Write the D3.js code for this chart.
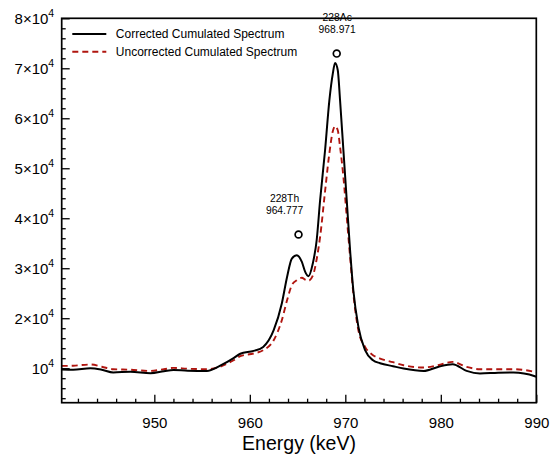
<!DOCTYPE html>
<html>
<head>
<meta charset="utf-8">
<script src="https://cdn.jsdelivr.net/npm/d3@7"></script>
<style>
  html, body { margin: 0; padding: 0; background: #fff; }
  svg { display: block; font-family: "Liberation Sans", Arial, Helvetica, sans-serif; }
</style>
</head>
<body>
<svg id="chart" width="550" height="454"></svg>
<script>
// --- data ---
const energy = [940.3, 941.5, 943.3, 944.5, 945.7, 947.5, 949.6, 951, 952, 953.5, 955.5, 956.9,
  958.3, 959.0, 960.4, 961.4, 962.5, 963.35, 963.9, 964.4, 964.92, 965.45, 965.8, 966.14,
  966.6, 967.0, 967.36, 967.88, 968.33, 968.69, 968.93, 969.21, 969.45, 969.8, 970.15, 970.5,
  970.84, 971.37, 972.07, 972.9, 973.64, 975, 976.1, 978.2, 979.7, 981.24, 982.7, 984.1,
  986, 987.6, 989.85, 990];

const corrected = [9740, 9700, 10000, 9700, 9140, 9300, 9000, 9400, 9660, 9500, 9460, 10500,
  12000, 12900, 13460, 14260, 17600, 22940, 28260, 31940, 32600, 31260, 29260, 28400,
  31000, 35600, 43600, 53600, 63600, 68940, 71060, 69600, 63600, 53600, 43600, 33600,
  25600, 18260, 13600, 11600, 11000, 10400, 9940, 9460, 10260, 10800, 9460, 8940,
  9100, 9140, 8400, 8300];

const uncorrected = [10460, 10500, 10740, 10300, 9800, 9700, 9460, 9800, 10060, 9900, 9800, 10300,
  11600, 12400, 12940, 13600, 15600, 19600, 23600, 26600, 27600, 28100, 27700, 27500,
  28500, 31800, 36260, 45400, 53000, 57400, 58400, 57600, 54260, 48260, 40260, 32260,
  24940, 17600, 14260, 12600, 11940, 11200, 10600, 10140, 10600, 11260, 10260, 9800,
  9800, 9800, 9260, 9200];

const xMajorTicks = [950, 960, 970, 980, 990];
const yMajorTicks = [10000, 20000, 30000, 40000, 50000, 60000, 70000, 80000];

const seriesNames = ['Corrected Cumulated Spectrum', 'Uncorrected Cumulated Spectrum'];

// peak markers: circle position, isotope, energy label
const peakIsotopes = ['228Th', '228Ac'];
const peakLabels = ['964.777', '968.971'];
const peakMarkE = [965.1, 969.1];
const peakMarkV = [36740, 72940];

// --- layout ---
const W = 550, H = 454;
const margin = { top: 18.3, right: 13.7, bottom: 51.3, left: 61.7 };
const innerW = W - margin.left - margin.right;
const innerH = H - margin.top - margin.bottom;

const svg = d3.select('#chart');
const g = svg.append('g').attr('transform', `translate(${margin.left},${margin.top})`);

const x = d3.scaleLinear().domain([940.3, 990]).range([0, innerW]);
const y = d3.scaleLinear().domain([3100, 80000]).range([innerH, 0]);

// clip for curves
svg.append('defs').append('clipPath').attr('id', 'plotClip')
  .append('rect').attr('width', innerW).attr('height', innerH);

const line = d3.line()
  .x(d => x(d[0]))
  .y(d => y(d[1]))
  .curve(d3.curveMonotoneX);

const curves = g.append('g').attr('clip-path', 'url(#plotClip)');

curves.append('path')
  .datum(energy.map((e, i) => [e, uncorrected[i]]))
  .attr('d', line)
  .attr('fill', 'none')
  .attr('stroke', '#b0150f')
  .attr('stroke-width', 1.9)
  .attr('stroke-dasharray', '6,4');

curves.append('path')
  .datum(energy.map((e, i) => [e, corrected[i]]))
  .attr('d', line)
  .attr('fill', 'none')
  .attr('stroke', '#000')
  .attr('stroke-width', 2);

// --- axes (ticks point inward) ---
const xMinor = d3.range(942, 990, 2).filter(v => v % 10 !== 0);
const yMinor = d3.range(4000, 80000, 2000).filter(v => v % 10000 !== 0);

const xAxisG = g.append('g').attr('transform', `translate(0,${innerH})`);
xAxisG.call(d3.axisBottom(x).tickValues(xMinor).tickSize(-4).tickFormat(''));
const xMajorG = g.append('g').attr('transform', `translate(0,${innerH})`)
  .call(d3.axisBottom(x).tickValues(xMajorTicks).tickSize(-8).tickPadding(15).tickFormat(d3.format('d')));

const yAxisG = g.append('g');
yAxisG.call(d3.axisLeft(y).tickValues(yMinor).tickSize(-4).tickFormat(''));
const yMajorG = g.append('g')
  .call(d3.axisLeft(y).tickValues(yMajorTicks).tickSize(-8).tickPadding(15).tickFormat(''));

[xAxisG, xMajorG, yAxisG, yMajorG].forEach(a => {
  a.select('.domain').remove();
  a.selectAll('.tick line').attr('stroke', '#000').attr('stroke-width', 1.3);
});

xMajorG.selectAll('.tick text')
  .attr('fill', '#000')
  .attr('font-size', '15px')
  .attr('font-family', '"Liberation Sans", Arial, sans-serif');

// y labels like 8×10^4
yMajorG.selectAll('.tick text').remove();
yMajorG.selectAll('.tick').each(function (d) {
  const t = d3.select(this).append('text')
    .attr('x', -7.5)
    .attr('y', 5.5)
    .attr('text-anchor', 'end')
    .attr('fill', '#000')
    .attr('font-size', '15px')
    .attr('font-family', '"Liberation Sans", Arial, sans-serif');
  const m = d / 10000;
  t.append('tspan').text(m === 1 ? '10' : `${m}×10`);
  t.append('tspan').attr('font-size', '10.5px').attr('dy', -7).text('4');
});

// frame
g.append('rect')
  .attr('width', innerW)
  .attr('height', innerH)
  .attr('fill', 'none')
  .attr('stroke', '#000')
  .attr('stroke-width', 1.7);

// x title
svg.append('text')
  .attr('x', margin.left + innerW / 2)
  .attr('y', 450)
  .attr('text-anchor', 'middle')
  .attr('font-size', '19.5px')
  .attr('fill', '#000')
  .text('Energy (keV)');

// --- legend ---
const legend = g.append('g').attr('transform', 'translate(10.6,15.7)');
seriesNames.forEach((name, i) => {
  const row = legend.append('g').attr('transform', `translate(0,${i * 17.7})`);
  row.append('line')
    .attr('x1', 0).attr('x2', 34)
    .attr('stroke', i === 0 ? '#000' : '#b0150f')
    .attr('stroke-width', i === 0 ? 2 : 1.9)
    .attr('stroke-dasharray', i === 0 ? null : '6,4');
  row.append('text')
    .attr('x', 43.5)
    .attr('y', 4.3)
    .attr('font-size', '12px')
    .attr('fill', '#000')
    .text(name);
});

// --- peak annotations ---
peakIsotopes.forEach((iso, i) => {
  const cx = x(peakMarkE[i]);
  const cy = y(peakMarkV[i]);
  const lx = i === 0 ? cx - 14 : cx + 0.5;
  g.append('circle')
    .attr('cx', cx).attr('cy', cy).attr('r', 3.4)
    .attr('fill', 'none').attr('stroke', '#000').attr('stroke-width', 1.7);
  g.append('text')
    .attr('x', lx)
    .attr('y', cy - 32.5)
    .attr('text-anchor', 'middle')
    .attr('font-size', '10.3px')
    .attr('fill', '#000')
    .text(iso);
  g.append('text')
    .attr('x', lx)
    .attr('y', cy - 20.5)
    .attr('text-anchor', 'middle')
    .attr('font-size', '10.3px')
    .attr('fill', '#000')
    .text(peakLabels[i]);
});
</script>
</body>
</html>
